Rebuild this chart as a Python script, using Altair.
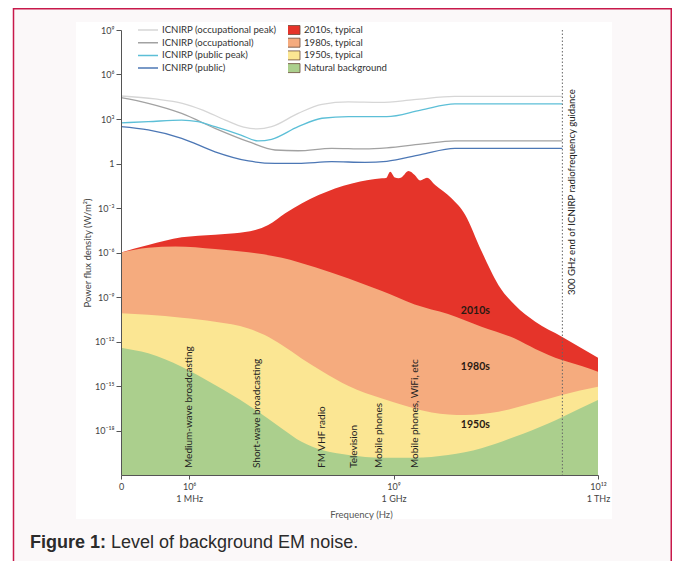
import altair as alt
import pandas as pd

# ---------------- data (log10 exponents) ----------------
red_f = [5.0, 5.40, 5.89, 6.38, 6.67, 6.97, 7.16, 7.41, 7.65, 7.90, 8.14, 8.39, 8.63, 8.83, 8.89, 8.95,
         9.02, 9.07, 9.12, 9.22, 9.31, 9.39, 9.44, 9.49, 9.61, 9.85, 10.05, 10.29, 10.54, 10.78, 11.08,
         11.47, 11.76, 12.0]
red_p = [-6.0, -5.5, -4.98, -4.80, -4.71, -4.49, -4.15, -3.36, -2.69, -2.13, -1.68, -1.34, -1.11, -1.0, -0.97, -0.55,
         -0.95, -1.0, -0.92, -0.51, -0.78, -1.15, -1.05, -0.96, -1.45, -2.35, -3.45, -5.9, -8.2, -9.54, -10.67,
         -11.68, -12.46, -13.1]

orange_f = [5.0, 5.40, 5.80, 6.38, 6.87, 7.36, 7.85, 8.34, 8.83, 9.31, 9.80, 10.29, 10.78, 11.08, 11.47, 11.76, 12.0]
orange_p = [-6.0, -5.68, -5.6, -5.77, -5.99, -6.35, -7.0, -7.75, -8.6, -9.5, -10.15, -11.0, -11.8, -12.5, -13.25, -13.65, -14.04]

yellow_f = [5.0, 5.40, 5.89, 6.38, 6.87, 7.11, 7.36, 7.65, 7.95, 8.34, 8.83, 9.22, 9.56, 10.05, 10.54, 11.03, 11.47, 12.0]
yellow_p = [-10.1, -10.2, -10.4, -10.67, -11.12, -11.57, -12.24, -13.14, -14.0, -15.0, -15.85, -16.4, -16.78, -16.96, -16.74, -16.17, -15.6, -15.05]

green_f = [5.0, 5.40, 5.89, 6.38, 6.87, 7.36, 7.65, 7.95, 8.34, 8.83, 9.31, 9.80, 10.29, 10.78, 11.27, 11.47, 12.0]
green_p = [-12.42, -12.8, -13.7, -14.94, -16.29, -17.86, -18.76, -19.32, -19.66, -19.84, -19.84, -19.66, -19.2, -18.42, -17.52, -17.1, -15.95]

occ_peak_f = [5.0, 5.5, 5.9, 6.2, 6.53, 6.8, 7.0, 7.21, 7.6, 7.95, 8.34, 8.8, 9.3, 9.9, 11.477]
occ_peak_p = [4.55, 4.35, 4.06, 3.6, 2.93, 2.45, 2.33, 2.48, 3.38, 3.99, 4.15, 4.12, 4.3, 4.52, 4.52]

occ_f = [5.0, 5.4, 5.89, 6.38, 6.87, 7.26, 7.6, 8.09, 8.58, 8.9, 9.4, 9.9, 11.477]
occ_p = [4.44, 4.06, 3.38, 2.37, 1.47, 0.91, 0.86, 1.02, 0.98, 1.05, 1.3, 1.52, 1.52]

pub_peak_f = [5.0, 5.4, 5.89, 6.13, 6.38, 6.76, 7.01, 7.21, 7.6, 7.95, 8.34, 8.9, 9.4, 9.9, 11.477]
pub_peak_p = [2.74, 2.82, 2.93, 2.82, 2.48, 1.92, 1.52, 1.63, 2.48, 3.05, 3.16, 3.16, 3.6, 4.02, 4.02]

pub_f = [5.0, 5.4, 5.89, 6.38, 6.87, 7.26, 7.6, 8.09, 8.58, 8.9, 9.4, 9.9, 11.477]
pub_p = [2.48, 2.26, 1.70, 0.79, 0.17, 0.01, 0.01, 0.12, 0.08, 0.15, 0.6, 1.02, 1.02]

area_names = ["2010s, typical", "1980s, typical", "1950s, typical", "Natural background"]
area_colors = ["#e5342a", "#f5ab7e", "#fbe693", "#abcf8d"]
line_names = ["ICNIRP (occupational peak)", "ICNIRP (occupational)", "ICNIRP (public peak)", "ICNIRP (public)"]
line_colors = ["#d6d6d6", "#a2a2a2", "#5cbfd7", "#4c77b5"]

band_labels = ["Medium-wave broadcasting", "Short-wave broadcasting", "FM VHF radio",
               "Television", "Mobile phones", "Mobile phones, WiFi, etc"]
band_f = [6.0, 6.99, 7.95, 8.42, 8.79, 9.31]
band_p = -20.53

era_labels = ["2010s", "1980s", "1950s"]
era_f = 10.2
era_p = [-9.93, -13.7, -17.6]

guide_f = 11.477  # 300 GHz
guide_label = "300 GHz end of ICNIRP radiofrequency guidance"
guide_p = -8.87

x_ticks = [1e5, 1e6, 1e9, 1e12]
x_tick_labels = [["0"], ["10⁶", "1 MHz"], ["10⁹", "1 GHz"], ["10¹²", "1 THz"]]
y_ticks = [1e9, 1e6, 1e3, 1.0, 1e-3, 1e-6, 1e-9, 1e-12, 1e-15, 1e-18]
y_tick_labels = ["10⁹", "10⁶", "10³", "1", "10⁻³", "10⁻⁶", "10⁻⁹", "10⁻¹²", "10⁻¹⁵", "10⁻¹⁸"]
y_floor = 1e-21

# ---------------- tables ----------------
def build(names, fs, ps):
    rows = []
    for n, f_list, p_list in zip(names, fs, ps):
        for i, (f, p) in enumerate(zip(f_list, p_list)):
            rows.append({"series": n, "freq": 10 ** f, "power": 10 ** p, "base": y_floor, "idx": i})
    return pd.DataFrame(rows)

area_df = build(area_names, [red_f, orange_f, yellow_f, green_f], [red_p, orange_p, yellow_p, green_p])
line_df = build(line_names, [occ_peak_f, occ_f, pub_peak_f, pub_f], [occ_peak_p, occ_p, pub_peak_p, pub_p])
band_df = pd.DataFrame({"label": band_labels, "freq": [10 ** f for f in band_f], "power": [10 ** band_p] * len(band_f)})
era_df = pd.DataFrame({"label": era_labels, "freq": [10 ** era_f] * 3, "power": [10 ** p for p in era_p]})
guide_df = pd.DataFrame({"label": [guide_label], "freq": [10 ** guide_f], "power": [10 ** guide_p]})
one = pd.DataFrame({"a": [0]})

FONT = "Lato, Noto Sans, sans-serif"

# ---------------- scales / axes ----------------
xscale = alt.Scale(type="log", domain=[1e5, 1e12], nice=False)
yscale = alt.Scale(type="log", domain=[y_floor, 1e9], nice=False)

x_expr = ""
for v, lab in zip(x_ticks, x_tick_labels):
    arr = "[" + ",".join("'" + s + "'" for s in lab) + "]"
    x_expr += f"datum.value == {v!r} ? {arr} : "
x_expr += "''"
y_expr = ""
for v, lab in zip(y_ticks, y_tick_labels):
    y_expr += f"abs(datum.value/{v!r} - 1) < 1e-6 ? '{lab}' : "
y_expr += "''"

xaxis = alt.Axis(values=x_ticks, labelExpr=x_expr, title="Frequency (Hz)", grid=False,
                 tickSize=4, tickColor="#555", domainColor="#555", labelFontSize=9, labelColor="#444",
                 labelPadding=3, labelLineHeight=12, labelOverlap=False, labelFlush=False,
                 labelFont=FONT, titleFont=FONT, titleFontSize=9.5, titleFontWeight="normal",
                 titleColor="#555", titleX=240, titleY=39, titleBaseline="middle", zindex=1)
yaxis = alt.Axis(values=y_ticks, labelExpr=y_expr, title="Power flux density (W/m²)", grid=False,
                 tickSize=5, tickColor="#555", domainColor="#555", labelFontSize=9, labelColor="#444",
                 labelPadding=2, labelOverlap=False, labelFont=FONT, titleFont=FONT, titleFontSize=9.5,
                 titleFontWeight="normal", titleColor="#444", titleX=-34, titleY=222.5,
                 titleAngle=270, titleAlign="center", titleBaseline="middle", zindex=1)

fill_legend = alt.Legend(title=None, orient="none", legendX=167, legendY=-6,
                         symbolType="M-1.3,-0.9H1.3V0.9H-1.3Z", symbolSize=100,
                         symbolStrokeColor="#6a4a3a", symbolStrokeWidth=0.8, symbolOpacity=1,
                         clipHeight=12, rowPadding=0.7, labelOffset=5, padding=0,
                         labelFont=FONT, labelFontSize=9.6, labelColor="#333", zindex=1)
stroke_legend = alt.Legend(title=None, orient="none", legendX=16, legendY=-6,
                           symbolType="stroke", symbolSize=400, symbolStrokeWidth=1.5,
                           clipHeight=12, rowPadding=0.7, labelOffset=3, padding=0,
                           labelFont=FONT, labelFontSize=9.6, labelColor="#333", zindex=1)

# ---------------- decorative backdrop ----------------
frame = alt.Chart(one).mark_rect(fill="#fbf8f9", stroke="#c8194b", strokeWidth=1.5).encode(
    x=alt.value(-107.5), x2=alt.value(550.25), y=alt.value(-21.25), y2=alt.value(620))
panel = alt.Chart(one).mark_rect(fill="white").encode(
    x=alt.value(-45), x2=alt.value(491), y=alt.value(-8), y2=alt.value(489))

# ---------------- areas ----------------
areas = []
for n in area_names:
    areas.append(
        alt.Chart(area_df).transform_filter(alt.datum.series == n)
        .mark_area(interpolate="monotone", opacity=1)
        .encode(
            x=alt.X("freq:Q", scale=xscale, axis=xaxis),
            y=alt.Y("power:Q", scale=yscale, axis=yaxis),
            y2=alt.Y2("base:Q"),
            fill=alt.Fill("series:N", scale=alt.Scale(domain=area_names, range=area_colors), legend=fill_legend),
        )
    )

lines = alt.Chart(line_df).mark_line(interpolate="monotone", strokeWidth=1.3).encode(
    x=alt.X("freq:Q", scale=xscale),
    y=alt.Y("power:Q", scale=yscale),
    stroke=alt.Stroke("series:N", scale=alt.Scale(domain=line_names, range=line_colors), legend=stroke_legend),
    detail="series:N",
    order=alt.Order("idx:Q"),
)

guide_rule = alt.Chart(guide_df).mark_rule(strokeDash=[1.5, 2], color="#666", strokeWidth=1).encode(
    x=alt.X("freq:Q", scale=xscale))
guide_text = alt.Chart(guide_df).mark_text(angle=270, align="left", baseline="middle", dy=10,
                                           font=FONT, fontSize=9.6, color="#222").encode(
    x=alt.X("freq:Q", scale=xscale), y=alt.Y("power:Q", scale=yscale), text="label:N")

bands = alt.Chart(band_df).mark_text(angle=270, align="left", baseline="middle",
                                     font=FONT, fontSize=10, color="#222").encode(
    x=alt.X("freq:Q", scale=xscale), y=alt.Y("power:Q", scale=yscale), text="label:N")

eras = alt.Chart(era_df).mark_text(font=FONT, fontSize=10.5, fontWeight="bold", color="#2a1a12").encode(
    x=alt.X("freq:Q", scale=xscale), y=alt.Y("power:Q", scale=yscale), text="label:N")

cap1 = alt.Chart(one).mark_text(text="Figure 1:", align="left", baseline="alphabetic",
                                font="Liberation Sans", fontSize=18, fontWeight="bold", color="#2b2b2b").encode(
    x=alt.value(-91), y=alt.value(518))
cap2 = alt.Chart(one).mark_text(text="Level of background EM noise.", align="left", baseline="alphabetic",
                                font="Liberation Sans", fontSize=18, color="#2b2b2b").encode(
    x=alt.value(-10), y=alt.value(518))

chart = alt.layer(frame, panel, *areas, lines, guide_rule, guide_text, bands, eras, cap1, cap2).properties(
    width=477, height=445,
    padding={"left": 113, "top": 22, "right": 74, "bottom": 86},
    autosize=alt.AutoSizeParams(type="none"),
).configure_view(stroke=None).configure(background="white")

chart.save("out.html", embed_options={"renderer": "svg", "actions": False})
